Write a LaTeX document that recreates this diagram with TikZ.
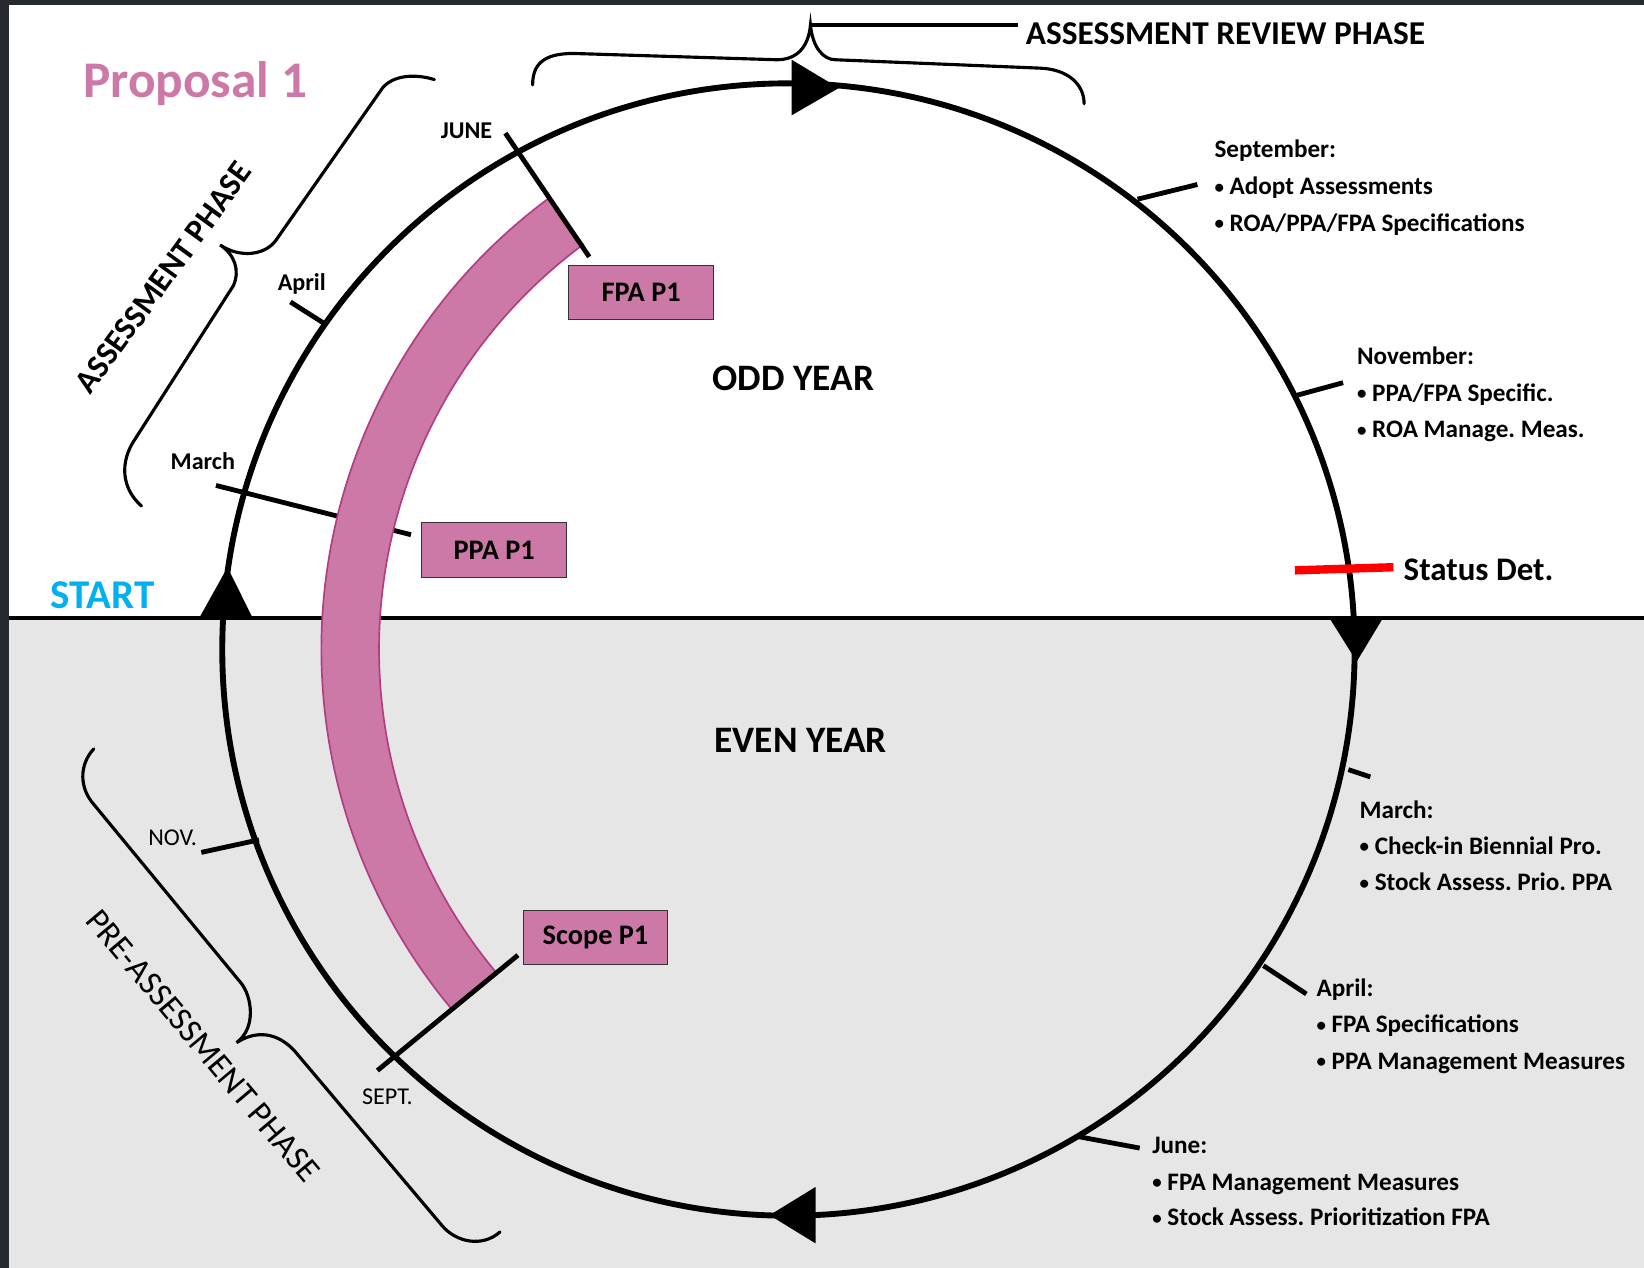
\documentclass[tikz,border=0pt]{standalone}
\usepackage{fontspec}
\setmainfont{Carlito}
\usetikzlibrary{positioning}
\frenchspacing
\definecolor{ppink}{RGB}{204,121,167}
\definecolor{pedge}{RGB}{176,62,128}
\definecolor{startblue}{RGB}{0,176,240}
\definecolor{evengray}{RGB}{230,230,230}
\definecolor{framedark}{RGB}{38,42,48}
\newcommand{\itemdot}{\raisebox{0.12ex}{\scalebox{0.75}{•}}}
\tikzset{monthtick/.style={line width=2.3pt}}
\tikzset{phasebrace/.style={line width=1.5pt,line cap=round}}
\tikzset{itembox/.style={rectangle,draw=black!80,fill=ppink,line width=0.5pt,
inner sep=0pt,minimum height=26pt, minimum width=69pt,
font=\bfseries\fontsize{13.5}{16}\selectfont}}
\tikzset{note/.style={inner sep=0pt,anchor=base west,
font=\bfseries\fontsize{12}{14}\selectfont}}
\tikzset{monthlabel/.style={inner sep=0pt,font=\bfseries\fontsize{11.5}{14}\selectfont}}

\begin{document}
\begin{tikzpicture}[x=0.5pt,y=0.5pt]

    % frame and the two years
    \useasboundingbox (-752,-589.5) rectangle (816,619.5);
    \fill[framedark] (-752,-589.5) rectangle (816,619.5);
    \fill[white] (-743.4,30) rectangle (816,614.7);
    \fill[evengray] (-743.4,-589.5) rectangle (816,30);
    \draw[line width=1.5pt] (-743.4,30) -- (816,30);

    % March tick runs under the band
    \draw[monthtick] (-546,156.5) -- (-360,109.5);

    % proposal band
    \coordinate (bandc) at (90,0);
    \filldraw[fill=ppink,draw=pedge,line width=0.8pt]
        ([shift={(126.5:535.5)}]bandc) arc[start angle=126.5,end angle=219.8,radius=535.5]
        -- ([shift={(219.8:480.5)}]bandc) arc[start angle=219.8,end angle=126.5,radius=480.5]
        -- cycle;

    % the cycle
    \coordinate (cyc) at (0,0);
    \draw[line width=2.8pt] (cyc) circle[radius=540];
    \fill (-562,30) -- (-535,78.5) -- (-511,30) -- cycle;
    \fill (3,562.5) -- (48,535.5) -- (3,509.5) -- cycle;
    \fill (516,30) -- (542,-11.5) -- (567,30) -- cycle;
    \fill (26,-512.5) -- (-18,-539.5) -- (26,-566.5) -- cycle;

    % month ticks
    \draw[monthtick] (-270,492.5) -- (-190,374.5);
    \draw[monthtick] (-475,331.5) -- (-442,310.5);
    \draw[monthtick] (333,429.5) -- (390,443.5);
    \draw[monthtick] (485,242.5) -- (529,254.5);
    \draw[monthtick] (534,-114.5) -- (555,-121.5);
    \draw[monthtick] (453,-301.5) -- (494,-328.5);
    \draw[monthtick] (276,-464.5) -- (335,-475.5);
    \draw[monthtick] (-560,-193.5) -- (-505,-181.5);
    \draw[monthtick] (-392,-401.5) -- (-258,-291.5);
    \draw[line width=4pt,red] (483,75.5) -- (577,78.5);

    % boxes
    \node[itembox] (fpa) at (-140.5,340.5) {FPA P1};
    \node[itembox] (ppa) at (-280.7,95.1) {PPA P1};
    \node[itembox] (scope) at (-184,-274.5) {Scope P1};

    % headings
    \node[inner sep=0pt,text=ppink,font=\bfseries\fontsize{24.5}{28}\selectfont] (title) at (-565.9,539.7) {Proposal 1};
    \node[inner sep=0pt,text=startblue,font=\bfseries\fontsize{19.5}{23}\selectfont] (start) at (-654.3,52.1) {START};
    \node[inner sep=0pt,font=\bfseries\fontsize{17.8}{21}\selectfont] (odd) at (4.6,258.5) {ODD YEAR};
    \node[inner sep=0pt,font=\bfseries\fontsize{17.8}{21}\selectfont] (even) at (11.8,-86.2) {EVEN YEAR};
    \node[inner sep=0pt,anchor=west,font=\bfseries\fontsize{15.7}{18}\selectfont] (status) at (586.4,75.9) {Status Det.};

    % phases
    \draw[phasebrace] (-244,538.5) .. controls (-244,559.5) and (-232,568.5) .. (-205,568.5)
        -- (-11,562.5) .. controls (8,562.5) and (19,574.5) .. (21,595.5)
        .. controls (23,574.5) and (33,562.5) .. (45,562.5)
        -- (240,554.5) .. controls (266,553.5) and (282,539.5) .. (282,520.5);
    \draw[line width=1.8pt] (21,595.5) -- (219,595.5);
    \node[inner sep=0pt,anchor=west,font=\bfseries\fontsize{15.9}{18}\selectfont] (review) at (226,587.7) {ASSESSMENT REVIEW PHASE};

    \draw[phasebrace] (-337.7,543.6) .. controls (-357,549.5) and (-377,547.5) .. (-387,535.8)
        -- (-489.2,389.8) .. controls (-500,375.5) and (-524,373.5) .. (-542.1,385.9)
        .. controls (-528,376.5) and (-523,361.5) .. (-529.4,347)
        -- (-624.2,199.1) .. controls (-637,179.5) and (-637,154.5) .. (-617,136.8);
    \node[inner sep=0pt,rotate=54,font=\bfseries\fontsize{15.6}{18}\selectfont] (assess) at (-596,354.8) {ASSESSMENT PHASE};

    \draw[phasebrace] (-662.6,-94.8) .. controls (-677,-110.5) and (-676,-132.5) .. (-662.6,-147.6)
        -- (-522.1,-318.1) .. controls (-512,-330.5) and (-507,-360.5) .. (-526.3,-374.9)
        .. controls (-507,-362.5) and (-487,-365.5) .. (-471,-382.9)
        -- (-330.5,-549.3) .. controls (-317,-565.5) and (-292,-570.5) .. (-275.1,-555.5);
    \node[inner sep=0pt,rotate=-50,font=\fontsize{16.2}{19}\selectfont] (preassess) at (-558.5,-378) {PRE-ASSESSMENT PHASE};

    % month labels, left side
    \node[monthlabel] (june1) at (-307,495) {JUNE};
    \node[monthlabel] (april1) at (-464.2,349) {April};
    \node[monthlabel] (march1) at (-558.5,180) {March};
    \node[monthlabel,font=\fontsize{11.5}{14}\selectfont] (nov0) at (-587.4,-179.5) {NOV.};
    \node[monthlabel,font=\fontsize{11.5}{14}\selectfont] (sept0) at (-382.5,-426.5) {SEPT.};

    % month notes, right side
    \node[note] (sept1) at (406,468.9) {September:};
    \node[note] (sept1a) at ([yshift=-17.5pt]sept1.base west) {\itemdot{} Adopt Assessments};
    \node[note] (sept1b) at ([yshift=-17.5pt]sept1a.base west) {\itemdot{} ROA/PPA/FPA Specifications};

    \node[note] (nov1) at (542,271.8) {November:};
    \node[note] (nov1a) at ([yshift=-17.5pt]nov1.base west) {\itemdot{} PPA/FPA Specific.};
    \node[note] (nov1b) at ([yshift=-17.5pt]nov1a.base west) {\itemdot{} ROA Manage. Meas.};

    \node[note] (march2) at (544.4,-161.2) {March:};
    \node[note] (march2a) at ([yshift=-17pt]march2.base west) {\itemdot{} Check-in Biennial Pro.};
    \node[note] (march2b) at ([yshift=-17.5pt]march2a.base west) {\itemdot{} Stock Assess. Prio. PPA};

    \node[note] (april2) at (503.3,-331.3) {April:};
    \node[note] (april2a) at ([yshift=-17pt]april2.base west) {\itemdot{} FPA Specifications};
    \node[note] (april2b) at ([yshift=-17.5pt]april2a.base west) {\itemdot{} PPA Management Measures};

    \node[note] (june2) at (346.7,-480.7) {June:};
    \node[note] (june2a) at ([yshift=-17.5pt]june2.base west) {\itemdot{} FPA Management Measures};
    \node[note] (june2b) at ([yshift=-17pt]june2a.base west) {\itemdot{} Stock Assess. Prioritization FPA};

\end{tikzpicture}
\end{document}
